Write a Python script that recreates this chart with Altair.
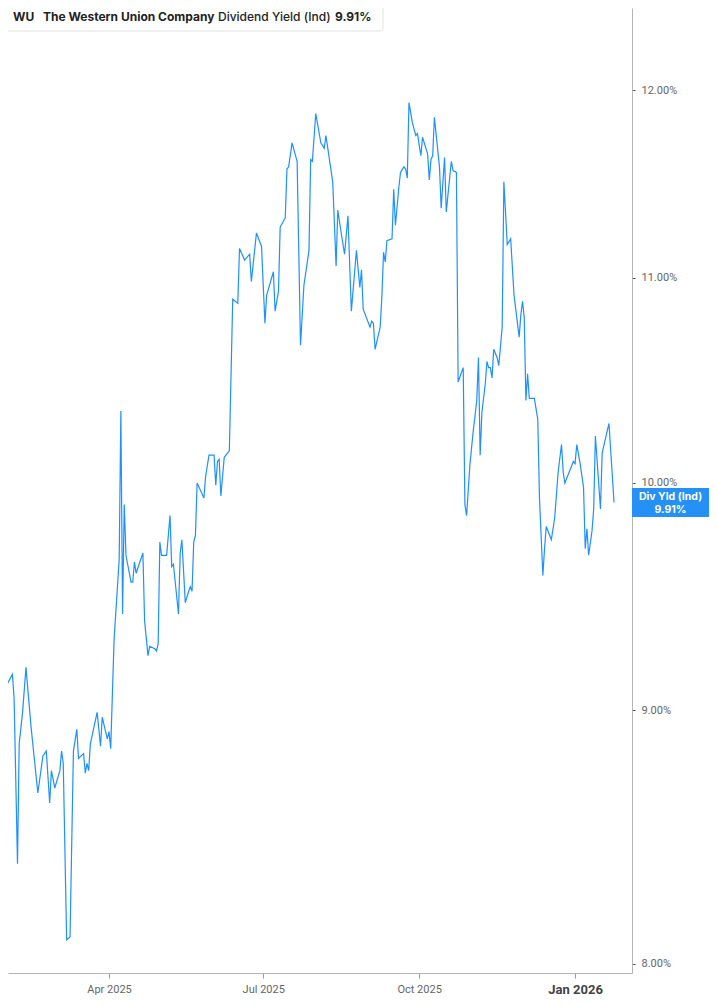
import altair as alt
import pandas as pd

# Western Union dividend yield (indicated)
dates = [
    "2025-01-27", "2025-01-28", "2025-01-30", "2025-01-31", "2025-02-03", "2025-02-04",
    "2025-02-06", "2025-02-07", "2025-02-09", "2025-02-11", "2025-02-14", "2025-02-18",
    "2025-02-21", "2025-02-23", "2025-02-25", "2025-02-26", "2025-02-28", "2025-03-03",
    "2025-03-04", "2025-03-05", "2025-03-07", "2025-03-09", "2025-03-11", "2025-03-13",
    "2025-03-14", "2025-03-17", "2025-03-18", "2025-03-19", "2025-03-20", "2025-03-21",
    "2025-03-25", "2025-03-27", "2025-03-28", "2025-03-31", "2025-04-01", "2025-04-02",
    "2025-04-04", "2025-04-07", "2025-04-08", "2025-04-09", "2025-04-10", "2025-04-11",
    "2025-04-14", "2025-04-15", "2025-04-16", "2025-04-17", "2025-04-21", "2025-04-22",
    "2025-04-24", "2025-04-25", "2025-04-28", "2025-04-29", "2025-04-30", "2025-05-01",
    "2025-05-02", "2025-05-05", "2025-05-07", "2025-05-08", "2025-05-09", "2025-05-12",
    "2025-05-13", "2025-05-14", "2025-05-16", "2025-05-18", "2025-05-19", "2025-05-20",
    "2025-05-21", "2025-05-22", "2025-05-23", "2025-05-27", "2025-05-28", "2025-05-30",
    "2025-06-02", "2025-06-03", "2025-06-04", "2025-06-05", "2025-06-06", "2025-06-08",
    "2025-06-09", "2025-06-11", "2025-06-13", "2025-06-16", "2025-06-17", "2025-06-20",
    "2025-06-23", "2025-06-24", "2025-06-27", "2025-06-30", "2025-07-02", "2025-07-03",
    "2025-07-07", "2025-07-08", "2025-07-10", "2025-07-11", "2025-07-14", "2025-07-15",
    "2025-07-16", "2025-07-18", "2025-07-21", "2025-07-23", "2025-07-25", "2025-07-28",
    "2025-07-29", "2025-07-30", "2025-08-01", "2025-08-04", "2025-08-06", "2025-08-07",
    "2025-08-11", "2025-08-13", "2025-08-14", "2025-08-16", "2025-08-18", "2025-08-20",
    "2025-08-22", "2025-08-25", "2025-08-27", "2025-08-28", "2025-08-29", "2025-09-02",
    "2025-09-03", "2025-09-04", "2025-09-05", "2025-09-08", "2025-09-09", "2025-09-10",
    "2025-09-11", "2025-09-12", "2025-09-15", "2025-09-16", "2025-09-17", "2025-09-19",
    "2025-09-20", "2025-09-22", "2025-09-23", "2025-09-24", "2025-09-25", "2025-09-27",
    "2025-09-29", "2025-09-30", "2025-10-02", "2025-10-03", "2025-10-06", "2025-10-07",
    "2025-10-08", "2025-10-09", "2025-10-10", "2025-10-13", "2025-10-14", "2025-10-16",
    "2025-10-17", "2025-10-20", "2025-10-21", "2025-10-23", "2025-10-24", "2025-10-27",
    "2025-10-28", "2025-10-29", "2025-10-31", "2025-11-02", "2025-11-04", "2025-11-05",
    "2025-11-06", "2025-11-07", "2025-11-09", "2025-11-10", "2025-11-11", "2025-11-12",
    "2025-11-13", "2025-11-14", "2025-11-16", "2025-11-17", "2025-11-19", "2025-11-20",
    "2025-11-22", "2025-11-24", "2025-11-26", "2025-11-27", "2025-11-29", "2025-11-30",
    "2025-12-01", "2025-12-02", "2025-12-03", "2025-12-04", "2025-12-05", "2025-12-08",
    "2025-12-10", "2025-12-11", "2025-12-13", "2025-12-14", "2025-12-15", "2025-12-16",
    "2025-12-18", "2025-12-20", "2025-12-22", "2025-12-24", "2025-12-25", "2025-12-26",
    "2025-12-29", "2025-12-31", "2026-01-01", "2026-01-02", "2026-01-04", "2026-01-06",
    "2026-01-07", "2026-01-08", "2026-01-09", "2026-01-11", "2026-01-12", "2026-01-13",
    "2026-01-16", "2026-01-17", "2026-01-19", "2026-01-21", "2026-01-24",
]
yields = [
    9.05, 9.14, 9.04, 9.11, 9.15, 9.05,
    8.38, 8.86, 8.99, 9.18, 8.93, 8.66,
    8.81, 8.83, 8.62, 8.75, 8.68, 8.75,
    8.83, 8.78, 8.09, 8.10, 8.83, 8.92,
    8.80, 8.82, 8.74, 8.78, 8.75, 8.86,
    8.99, 8.85, 8.97, 8.88, 8.91, 8.84,
    9.30, 9.65, 10.34, 9.41, 9.90, 9.67,
    9.55, 9.55, 9.64, 9.59, 9.68, 9.38,
    9.23, 9.27, 9.26, 9.25, 9.28, 9.73,
    9.67, 9.67, 9.85, 9.62, 9.63, 9.41,
    9.68, 9.74, 9.46, 9.51, 9.53, 9.51,
    9.73, 9.76, 10.00, 9.93, 10.03, 10.13,
    10.13, 9.99, 10.10, 10.11, 9.94, 10.12,
    10.13, 10.15, 10.89, 10.87, 11.15, 11.09,
    11.12, 10.98, 11.23, 11.16, 10.77, 10.91,
    11.03, 10.83, 10.93, 11.26, 11.31, 11.57,
    11.58, 11.71, 11.61, 10.66, 10.96, 11.14,
    11.62, 11.61, 11.87, 11.71, 11.68, 11.75,
    11.50, 11.06, 11.35, 11.23, 11.12, 11.32,
    10.83, 11.14, 10.95, 11.04, 10.84, 10.75,
    10.78, 10.77, 10.64, 10.75, 10.90, 11.13,
    11.08, 11.19, 11.20, 11.46, 11.27, 11.47,
    11.55, 11.58, 11.57, 11.52, 11.93, 11.82,
    11.75, 11.76, 11.64, 11.74, 11.65, 11.51,
    11.62, 11.64, 11.85, 11.58, 11.36, 11.63,
    11.34, 11.61, 11.56, 11.55, 10.48, 10.55,
    9.90, 9.85, 10.09, 10.25, 10.39, 10.60,
    10.13, 10.33, 10.47, 10.58, 10.55, 10.55,
    10.50, 10.64, 10.60, 10.56, 10.75, 11.50,
    11.17, 11.20, 10.91, 10.84, 10.70, 10.81,
    10.88, 10.80, 10.39, 10.52, 10.40, 10.40,
    10.30, 9.93, 9.58, 9.70, 9.80, 9.78,
    9.74, 9.84, 10.05, 10.18, 10.05, 10.00,
    10.06, 10.10, 10.09, 10.18, 10.09, 9.98,
    9.70, 9.79, 9.67, 9.78, 9.88, 10.22,
    9.88, 10.14, 10.21, 10.28, 9.91,
]
y_ticks = [8, 9, 10, 11, 12]
x_ticks = [(2025, 4), (2025, 7), (2025, 10), (2026, 1)]

BLUE = "#1e90ff"
FONT = "Inter"

df = pd.DataFrame({"date": dates, "yld": yields})
last = df.tail(1)

x_enc = alt.X(
    "date:T",
    title=None,
    scale=alt.Scale(
        type="utc",
        domain=[alt.DateTime(year=2025, month=1, date=31, hours=9, minutes=36, utc=True),
                alt.DateTime(year=2026, month=2, date=3, hours=14, minutes=24, utc=True)],
    ),
    axis=alt.Axis(
        values=[alt.DateTime(year=y, month=m, date=1, utc=True) for y, m in x_ticks],
        labelExpr="utcFormat(datum.value, '%b %Y')",
        grid=False,
        domainColor="#b4b4b4",
        tickColor="#9a9a9a",
        tickSize=5,
        labelPadding=5,
        labelFont="Roboto",
        labelFontSize=alt.condition("utcmonth(datum.value) == 0", alt.value(13), alt.value(11)),
        labelFontWeight=alt.condition("utcmonth(datum.value) == 0", alt.value("bold"), alt.value("normal")),
        labelColor=alt.condition("utcmonth(datum.value) == 0", alt.value("#444444"), alt.value("#666666")),
    ),
)
y_enc = alt.Y(
    "yld:Q",
    title=None,
    scale=alt.Scale(type="log", domain=[7.966, 12.466], nice=False, zero=False),
    axis=alt.Axis(
        orient="right",
        values=y_ticks,
        labelExpr="format(datum.value, '.2f') + '%'",
        grid=False,
        domainColor="#b4b4b4",
        tickColor="#555555",
        tickSize=3,
        labelPadding=6,
        labelFont="Roboto",
        labelFontSize=11,
        labelColor="#666666",
    ),
)

line = alt.Chart(df).mark_line(color=BLUE, strokeWidth=1.2, clip=True).encode(x=x_enc, y=y_enc)

# last-value tag on the right axis
TAG_X = 662.5
tag_box = alt.Chart(last).mark_point(
    shape="M-1,-0.3766L1,-0.3766L1,0.3766L-1,0.3766Z",
    size=5929, filled=True, fill="#2590f5", opacity=1,
).encode(x=alt.value(TAG_X), y="yld:Q")
tag_top = alt.Chart(last).mark_text(
    text="Div Yld (Ind)", color="white", font=FONT, fontSize=10.5, fontWeight="bold", dy=-5,
).encode(x=alt.value(TAG_X), y="yld:Q")
tag_val = alt.Chart(last).transform_calculate(
    lbl="format(datum.yld, '.2f') + '%'"
).mark_text(
    color="white", font=FONT, fontSize=10.5, fontWeight="bold", dy=7.5,
).encode(x=alt.value(TAG_X), y="yld:Q", text="lbl:N")

# header legend box
one = alt.Data(values=[{}])
head_box = alt.Chart(one).mark_rect(
    fill="white", stroke="#e2e2e2", strokeWidth=1, cornerRadius=3,
).encode(x=alt.value(-4), x2=alt.value(375), y=alt.value(-3), y2=alt.value(23))
head_bar = alt.Chart(one).mark_rect(fill=BLUE, cornerRadius=1).encode(
    x=alt.value(-3), x2=alt.value(0), y=alt.value(2), y2=alt.value(19)
)


def head_text(txt, x, weight):
    return alt.Chart(one).mark_text(
        text=txt, align="left", baseline="middle", font=FONT, fontSize=12,
        fontWeight=weight, color="#222222",
    ).encode(x=alt.value(x), y=alt.value(9))


chart = alt.layer(
    line, tag_box, tag_top, tag_val,
    head_box, head_bar,
    head_text("WU", 5, "bold"),
    head_text("The Western Union Company", 35, "bold"),
    head_text("Dividend Yield (Ind)", 210, 500),
    head_text("9.91%", 327, "bold"),
).properties(
    width=624,
    height=965,
    autosize=alt.AutoSizeParams(type="none"),
    padding={"left": 0, "top": 0, "right": 77, "bottom": 24},
).configure_view(stroke=None)

chart.save("out.html", embed_options={"renderer": "svg", "actions": False})
